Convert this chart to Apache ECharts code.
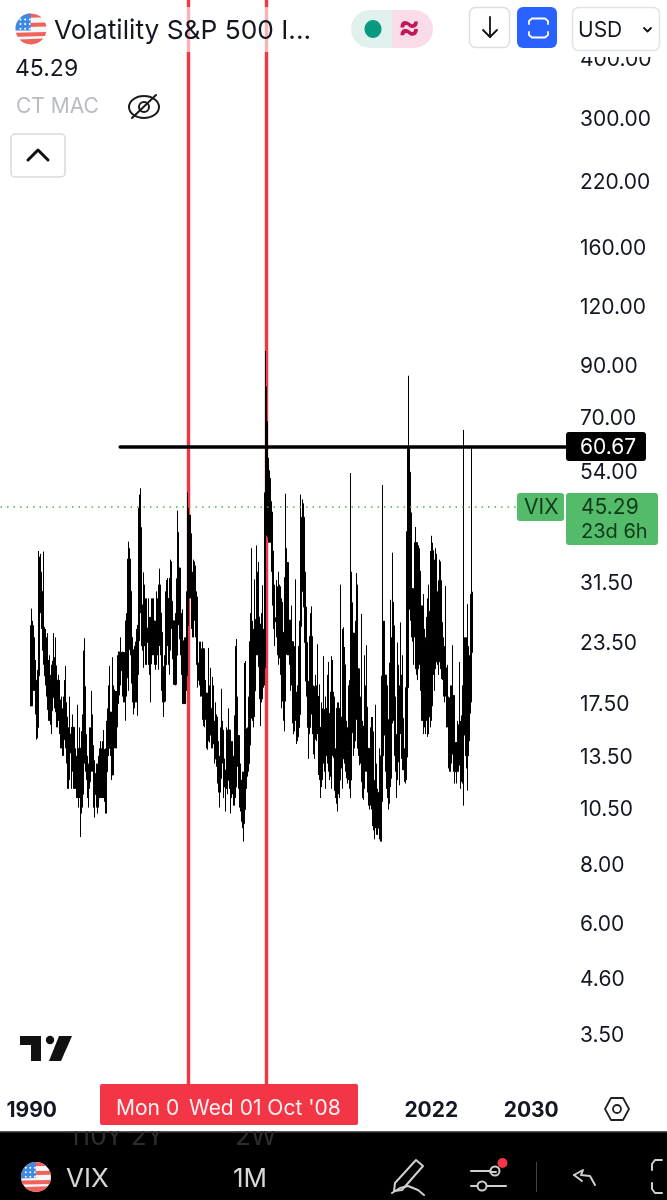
<!DOCTYPE html>
<html><head><meta charset="utf-8">
<script src="https://cdn.jsdelivr.net/npm/echarts@6/dist/echarts.min.js"></script>
<style>html,body{margin:0;padding:0;background:#fff}#c{width:667px;height:1200px}</style></head>
<body><div id="c"></div>
<script>
// Monthly VIX candles, Jan 1990 to Apr 2025, one row per year
const opens=[
17.2,25.4,22.0,19.7,19.5,17.4,15.5,19.9,29.9,29.1,30.0,25.1,
25.2,22.6,19.9,19.9,20.0,16.9,19.3,16.8,17.9,19.4,21.4,20.9,
19.5,16.7,16.7,17.5,17.7,15.0,15.5,14.6,16.5,17.5,16.3,13.9,
12.6,13.7,15.0,13.7,15.5,12.9,12.4,12.7,11.8,12.7,11.4,14.0,
11.7,11.2,15.2,18.9,13.6,13.2,12.6,11.6,11.9,14.8,13.5,14.2,
13.2,11.7,11.2,12.4,11.0,12.2,12.3,13.4,13.2,13.0,13.9,11.8,
12.5,13.5,14.0,16.0,16.7,14.2,12.3,18.6,17.1,15.4,16.0,17.4,
20.9,19.5,20.4,21.4,22.3,20.2,19.3,19.7,26.0,22.6,35.1,30.0,
24.0,22.6,19.2,18.9,20.2,19.7,23.9,23.6,44.3,40.9,28.1,26.0,
24.4,26.3,25.4,23.4,25.1,23.7,21.1,25.0,22.9,26.0,23.9,23.2,
24.6,24.9,24.0,24.1,27.0,24.6,19.7,20.8,17.6,21.0,24.6,29.0,
26.9,23.0,26.0,28.6,26.0,21.6,19.1,22.0,25.9,31.9,33.6,25.5,
23.8,23.6,21.8,17.4,21.9,19.9,25.4,32.0,32.6,39.7,31.1,27.5,
28.6,31.2,29.6,29.2,21.2,19.5,19.5,19.5,19.1,22.7,16.1,16.3,
18.3,16.6,14.6,16.7,17.0,15.5,14.3,15.3,15.3,13.3,16.3,13.2,
13.3,13.1,12.1,14.0,15.3,13.3,12.0,11.6,12.6,12.0,15.3,12.1,
12.1,12.9,12.3,11.4,11.6,16.4,13.1,14.9,12.3,12.0,11.0,10.9,
11.6,10.4,15.4,14.6,14.2,13.0,16.2,23.5,23.4,18.0,18.5,22.9,
22.5,26.2,26.5,25.6,20.8,17.8,24.0,22.9,20.7,39.4,60.0,55.3,
40.0,44.8,46.4,44.1,36.5,28.9,26.4,25.9,26.0,25.6,30.7,24.5,
21.7,24.6,19.5,17.6,22.1,32.1,34.5,23.5,26.1,23.7,21.2,23.5,
17.8,19.5,18.4,17.7,14.8,15.5,16.5,25.3,31.6,43.0,30.0,27.8,
23.4,19.4,18.4,15.5,17.2,24.1,17.1,18.9,17.5,15.7,18.6,15.9,
18.0,14.3,15.5,12.7,13.5,16.3,16.9,13.5,17.0,16.6,13.8,13.7,
13.7,18.4,14.0,13.9,13.4,11.4,11.6,17.0,12.0,16.3,14.0,13.3,
19.2,21.0,13.3,15.3,14.6,13.8,18.2,12.0,28.4,24.5,15.1,16.1,
18.2,20.2,20.6,14.0,15.7,14.2,15.6,11.9,13.4,13.3,17.1,13.3,
14.0,12.0,12.9,12.4,10.8,10.4,11.2,10.3,10.6,9.5,10.2,11.3,
11.0,13.5,19.9,20.0,15.9,15.4,16.1,12.8,12.9,12.1,21.2,18.1,
25.4,16.6,14.8,13.7,13.1,18.7,15.1,16.1,19.0,16.2,13.2,12.6,
13.8,18.8,40.1,53.5,34.2,27.5,30.4,24.5,26.4,26.4,38.0,20.6,
22.8,33.1,28.0,19.4,18.6,16.8,15.8,18.2,16.5,23.1,16.3,27.2,
17.2,24.8,30.2,20.6,33.4,26.2,28.7,21.3,25.9,31.6,25.8,20.6,
21.7,19.4,20.7,18.7,15.8,17.9,13.6,13.6,13.6,17.5,18.1,12.9,
12.5,14.4,13.4,13.0,15.7,12.9,12.4,16.4,15.0,16.7,23.2,13.5,
17.4,16.6,19.6,22.3];
const closes=[
25.4,22.0,19.7,19.5,17.4,15.5,19.9,29.9,29.1,30.0,25.1,25.2,
22.6,19.9,19.9,20.0,16.9,19.3,16.8,17.9,19.4,21.4,20.9,19.5,
16.7,16.7,17.5,17.7,15.0,15.5,14.6,16.5,17.5,16.3,13.9,12.6,
13.7,15.0,13.7,15.5,12.9,12.4,12.7,11.8,12.7,11.4,14.0,11.7,
11.2,15.2,18.9,13.6,13.2,12.6,11.6,11.9,14.8,13.5,14.2,13.2,
11.7,11.2,12.4,11.0,12.2,12.3,13.4,13.2,13.0,13.9,11.8,12.5,
13.5,14.0,16.0,16.7,14.2,12.3,18.6,17.1,15.4,16.0,17.4,20.9,
19.5,20.4,21.4,22.3,20.2,19.3,19.7,26.0,22.6,35.1,30.0,24.0,
22.6,19.2,18.9,20.2,19.7,23.9,23.6,44.3,40.9,28.1,26.0,24.4,
26.3,25.4,23.4,25.1,23.7,21.1,25.0,22.9,26.0,23.9,23.2,24.6,
24.9,24.0,24.1,27.0,24.6,19.7,20.8,17.6,21.0,24.6,29.0,26.9,
23.0,26.0,28.6,26.0,21.6,19.1,22.0,25.9,31.9,33.6,25.5,23.8,
23.6,21.8,17.4,21.9,19.9,25.4,32.0,32.6,39.7,31.1,27.5,28.6,
31.2,29.6,29.2,21.2,19.5,19.5,19.5,19.1,22.7,16.1,16.3,18.3,
16.6,14.6,16.7,17.0,15.5,14.3,15.3,15.3,13.3,16.3,13.2,13.3,
13.1,12.1,14.0,15.3,13.3,12.0,11.6,12.6,12.0,15.3,12.1,12.1,
12.9,12.3,11.4,11.6,16.4,13.1,14.9,12.3,12.0,11.0,10.9,11.6,
10.4,15.4,14.6,14.2,13.0,16.2,23.5,23.4,18.0,18.5,22.9,22.5,
26.2,26.5,25.6,20.8,17.8,24.0,22.9,20.7,39.4,68.0,55.3,40.0,
44.8,46.4,44.1,36.5,28.9,26.4,25.9,26.0,25.6,30.7,24.5,21.7,
24.6,19.5,17.6,22.1,32.1,34.5,23.5,26.1,23.7,21.2,23.5,17.8,
19.5,18.4,17.7,14.8,15.5,16.5,25.3,31.6,43.0,30.0,27.8,23.4,
19.4,18.4,15.5,17.2,24.1,17.1,18.9,17.5,15.7,18.6,15.9,18.0,
14.3,15.5,12.7,13.5,16.3,16.9,13.5,17.0,16.6,13.8,13.7,13.7,
18.4,14.0,13.9,13.4,11.4,11.6,17.0,12.0,16.3,14.0,13.3,19.2,
21.0,13.3,15.3,14.6,13.8,18.2,12.0,28.4,24.5,15.1,16.1,18.2,
20.2,20.6,14.0,15.7,14.2,15.6,11.9,13.4,13.3,17.1,13.3,14.0,
12.0,12.9,12.4,10.8,10.4,11.2,10.3,10.6,9.5,10.2,11.3,11.0,
13.5,19.9,20.0,15.9,15.4,16.1,12.8,12.9,12.1,21.2,18.1,25.4,
16.6,14.8,13.7,13.1,18.7,15.1,16.1,19.0,16.2,13.2,12.6,13.8,
18.8,40.1,60.0,34.2,27.5,30.4,24.5,26.4,26.4,38.0,20.6,22.8,
33.1,28.0,19.4,18.6,16.8,15.8,18.2,16.5,23.1,16.3,27.2,17.2,
24.8,30.2,20.6,33.4,26.2,28.7,21.3,25.9,31.6,25.8,20.6,21.7,
19.4,20.7,18.7,15.8,17.9,13.6,13.6,13.6,17.5,18.1,12.9,12.5,
14.4,13.4,13.0,15.7,12.9,12.4,16.4,15.0,16.7,23.2,13.5,17.4,
16.6,19.6,22.3,29.9];
const highs=[
27.6,26.0,23.5,24.0,21.5,19.0,20.5,36.5,35.5,36.0,33.0,28.0,
36.4,25.0,24.0,24.5,21.5,22.0,20.0,21.0,21.0,24.5,21.8,24.0,
20.0,19.0,20.0,19.5,17.5,18.0,17.0,18.0,19.5,20.9,16.0,15.0,
15.5,18.0,15.5,16.5,15.5,14.0,14.0,13.5,17.3,13.0,15.5,13.5,
12.5,16.5,22.5,23.9,15.5,15.0,13.5,13.0,15.5,15.5,18.5,16.5,
14.0,13.0,13.0,13.0,13.5,14.0,14.5,14.0,14.5,15.3,13.0,14.0,
16.0,17.0,19.0,20.9,16.5,16.0,21.8,19.0,17.5,18.5,18.5,22.0,
22.4,22.4,24.0,22.4,21.0,21.5,21.5,27.0,26.0,38.2,37.0,26.0,
26.4,22.5,20.5,23.0,23.5,25.0,25.5,45.0,48.0,49.5,29.0,28.0,
32.9,31.0,29.0,29.0,29.0,26.5,26.5,29.0,29.0,29.0,25.5,26.0,
30.0,29.0,31.0,33.5,31.0,24.0,22.0,20.0,22.0,30.0,31.7,32.0,
29.0,32.0,35.0,34.7,25.5,23.0,27.0,26.5,44.4,40.0,33.0,27.0,
27.0,27.5,23.0,24.0,24.0,30.0,48.5,45.0,43.5,43.5,31.0,33.0,
35.0,34.7,34.0,30.0,25.0,23.5,23.5,22.0,23.5,22.0,20.5,19.5,
18.0,17.5,22.8,19.0,20.7,16.5,19.8,19.0,16.0,17.5,16.5,14.0,
14.5,13.5,15.5,18.7,16.0,14.0,12.5,15.5,15.0,17.0,14.5,13.0,
14.5,14.5,13.5,13.5,23.0,23.8,18.0,14.0,13.5,13.0,12.0,12.5,
12.5,21.2,21.4,15.0,15.5,18.0,27.0,37.0,26.0,25.0,31.8,25.0,
37.5,33.0,34.6,26.0,23.0,27.0,30.9,25.0,48.5,96.4,81.0,68.5,
57.4,54.0,52.0,40.0,36.0,33.4,31.0,31.7,30.0,33.0,31.0,25.0,
29.0,28.5,19.0,23.5,48.2,37.0,30.0,28.0,26.0,24.0,28.0,19.0,
21.0,23.0,31.8,18.0,19.0,23.0,26.0,48.0,46.9,46.0,37.0,33.0,
24.0,20.0,19.0,21.0,27.0,27.9,21.0,19.0,18.0,20.0,19.0,23.2,
15.5,19.1,15.5,17.5,17.0,21.9,15.5,18.0,20.0,21.3,14.5,17.0,
21.9,21.5,18.0,18.0,14.0,13.0,17.5,17.5,17.0,31.0,15.0,25.0,
25.2,22.9,17.5,16.0,15.5,19.0,19.5,53.3,33.0,24.0,18.0,26.0,
32.8,31.0,20.5,17.5,18.0,26.9,16.0,14.0,22.0,19.0,23.1,15.0,
14.0,13.5,15.5,16.3,16.3,15.2,12.0,17.3,13.0,11.5,14.0,13.3,
15.0,50.3,26.0,26.0,19.0,20.0,19.0,15.5,15.0,28.8,24.0,36.2,
28.5,17.5,18.0,15.0,23.4,21.0,19.0,25.8,20.0,22.0,14.0,16.0,
25.0,49.5,85.5,48.2,38.0,44.0,30.0,28.0,36.0,41.0,38.0,28.0,
37.5,37.0,31.0,22.0,28.0,29.6,25.0,24.0,26.5,29.0,31.0,36.5,
39.3,38.0,36.6,35.0,37.0,36.0,30.0,28.0,35.0,34.7,27.0,25.0,
24.0,23.0,30.8,19.5,21.0,18.0,16.0,19.0,19.0,23.1,18.0,13.5,
14.0,16.0,14.0,21.3,16.0,14.0,19.0,65.7,24.0,24.0,24.0,28.2,
23.0,22.0,29.6,60.1];
const lows=[
18.7,19.5,18.5,18.5,16.5,14.6,14.7,17.5,26.0,27.0,25.0,22.5,
21.0,19.0,18.0,18.0,16.0,16.0,15.7,15.0,17.0,18.0,17.0,17.5,
15.5,15.5,16.0,15.0,14.0,14.0,13.5,13.5,15.0,14.0,13.0,11.5,
11.5,12.0,11.5,12.5,11.5,11.5,11.5,11.0,11.0,10.5,11.0,9.1,
10.2,10.5,14.0,13.0,12.5,12.0,11.0,10.5,11.5,12.5,12.5,12.5,
10.5,10.0,10.5,10.2,10.5,11.0,11.0,11.0,11.0,11.0,10.8,10.2,
10.2,12.5,14.5,15.0,13.5,12.0,12.3,14.0,14.0,14.0,14.0,15.5,
18.0,18.1,19.0,18.0,17.5,17.5,16.0,18.0,21.0,18.5,26.0,22.0,
20.0,17.5,16.5,17.0,17.5,17.5,16.4,20.0,30.0,27.0,23.0,22.5,
20.7,23.0,21.0,21.0,21.0,20.0,17.5,22.0,22.0,22.0,21.0,20.5,
21.0,22.0,20.5,23.0,22.0,18.5,17.5,16.3,17.5,20.0,24.5,23.0,
21.0,20.0,22.5,25.0,21.0,19.7,19.0,20.0,24.0,29.0,25.0,22.0,
20.0,21.0,17.5,17.5,18.5,18.5,27.0,27.0,29.0,29.0,25.0,24.0,
24.0,26.0,24.0,21.0,18.8,19.0,18.0,18.0,18.0,15.6,15.5,16.5,
14.0,13.9,14.5,14.4,14.9,14.0,14.0,14.5,13.0,13.5,12.8,11.8,
11.3,10.5,11.3,12.8,13.0,11.0,10.3,11.5,11.2,12.0,11.5,10.2,
11.0,11.2,10.6,10.6,11.0,12.5,12.8,11.5,10.5,10.3,9.8,9.5,
8.9,9.7,13.5,11.5,12.2,12.5,14.2,18.0,16.0,15.5,16.3,19.0,
22.0,22.0,22.5,19.5,15.6,17.5,21.0,18.8,19.0,31.7,45.0,39.0,
38.0,38.0,38.0,33.0,28.0,25.0,23.0,24.0,22.0,21.0,22.0,20.0,
17.0,18.0,16.0,15.2,22.0,23.0,22.0,22.0,21.0,18.5,19.0,15.8,
15.0,15.2,16.0,14.3,14.5,15.0,15.5,18.0,31.0,28.0,25.0,23.0,
18.0,17.0,13.3,15.0,16.0,16.5,15.0,13.6,13.3,14.6,14.5,15.0,
12.3,12.0,11.0,11.6,12.0,13.0,12.5,11.5,13.0,12.5,12.0,12.2,
11.5,13.5,13.5,12.9,11.0,10.7,10.3,11.2,11.0,13.5,12.7,11.5,
15.5,13.0,12.5,12.1,11.8,12.0,11.5,11.0,20.0,13.5,14.0,14.5,
17.0,19.0,13.5,12.9,13.0,13.0,11.0,10.9,11.5,12.5,12.5,11.3,
10.6,10.4,10.6,10.4,9.6,9.4,9.0,9.5,9.2,9.2,9.0,8.9,
8.9,10.8,15.5,14.9,12.5,11.5,11.0,10.4,10.7,11.6,15.5,15.8,
16.0,13.5,12.5,11.0,12.0,13.5,11.7,15.0,13.3,12.6,11.9,11.8,
12.0,13.4,25.0,30.0,26.0,24.0,23.5,21.0,24.0,24.5,20.0,19.5,
21.0,21.0,18.5,16.0,16.0,15.0,15.5,15.0,16.0,14.8,15.0,15.5,
16.0,19.5,20.0,18.5,24.0,24.0,21.0,20.0,23.0,25.0,19.6,19.5,
18.0,17.5,18.0,15.5,15.5,12.7,12.5,12.5,13.0,16.0,12.5,11.8,
11.8,12.8,12.5,13.0,11.5,11.9,11.8,10.6,14.9,15.0,12.7,11.4,
14.5,14.5,17.5,17.5];
const priceTicks=[400,300,220,160,120,90,70,54,31.5,23.5,17.5,13.5,10.5,8,6,4.6,3.5];
const xTickYears=['1990','2022','2030'];
const levelValue=60.67;
const lastPrice=45.29;
const cursorMonths=['2002-07','2008-10'];
const firstYear=1987, firstMonth=7, monthCount=641;

const categories=[];
for(let i=0;i<monthCount;i++){
  const m=firstMonth-1+i, y=firstYear+Math.floor(m/12), mm=m%12+1;
  categories.push(y+'-'+String(mm).padStart(2,'0'));
}
const firstIdx=categories.indexOf('1990-01');
const candleData=categories.map((c,i)=>{
  const k=i-firstIdx;
  return (k>=0&&k<closes.length)?[opens[k],closes[k],lows[k],highs[k]]:'-';
});
const FONT='Inter, "Liberation Sans", sans-serif';
const INK='#131722';

function band(cx,cy,r,y0,y1,x1){ // polygon of a disc slice, for the flag icon
  const pts=[];
  const hw=y=>Math.sqrt(Math.max(0,r*r-(y-cy)*(y-cy)));
  for(let y=y0;y<=y1+.01;y+=1){pts.push([Math.min(cx+hw(y),x1===undefined?1e9:x1),y]);}
  for(let y=y1;y>=y0-.01;y-=1){pts.push([cx-hw(y),y]);}
  return pts;
}
function flag(cx,cy,r){
  const out=[{type:'circle',z:101,shape:{cx,cy,r},style:{fill:'#f4f6f8'}}];
  const reds=[[-1,-.72],[-.42,-.12],[.2,.5],[.62,1]];
  reds.forEach(b=>out.push({type:'polygon',z:102,shape:{points:band(cx,cy,r,cy+b[0]*r,cy+b[1]*r)},style:{fill:'#f0625a'}}));
  out.push({type:'polygon',z:103,shape:{points:band(cx,cy,r,cy-r,cy+.1*r,cx-.02*r)},style:{fill:'#3d8ae0'}});
  for(let i=0;i<3;i++)for(let j=0;j<3;j++)out.push({type:'circle',z:104,shape:{cx:cx-.68*r+j*.3*r,cy:cy-.62*r+i*.3*r,r:1},style:{fill:'#fff'}});
  return out;
}
const T=(text,x,y,size,fill,extra)=>({type:'text',z:110,x,y,style:Object.assign({text,fill,font:size+'px '+FONT,textVerticalAlign:'middle',textAlign:'left'},extra||{})});
const stroke=(c,w)=>({fill:'none',stroke:c,lineWidth:w,lineCap:'round',lineJoin:'round'});
const PL=(points,c,w)=>({type:'polyline',z:110,shape:{points},style:stroke(c,w)});
const RR=(x,y,width,height,r,fill,st)=>({type:'rect',z:105,shape:{x,y,width,height,r},style:Object.assign({fill},st||{})});

const graphics=[
  // header veil and the clipped top of the price scale
  {type:'rect',z:90,shape:{x:0,y:7,width:667,height:45},style:{fill:'rgba(255,255,255,0.62)'}},
  {type:'rect',z:91,shape:{x:566,y:0,width:101,height:57},style:{fill:'#fff'}},
  ...flag(31,29,15.5),
  T('Volatility S&P 500 I...',54,31,26.3,INK),
  T('45.29',15,69,23,INK),
  T('CT MAC',16,107,21,'#b8bbc2'),
  {type:'ellipse',z:110,shape:{cx:144,cy:107,rx:15,ry:11},style:stroke('#1a1a1a',2)},
  {type:'circle',z:110,shape:{cx:144,cy:107,r:5},style:stroke('#1a1a1a',2)},
  PL([[132,118],[156,95]],'#1a1a1a',2),
  RR(11,134,54,43,4,'#fff',{stroke:'#d9dadd',lineWidth:1.5}),
  PL([[28,160],[38,150],[48,160]],'#111',3),
  // status pill
  {type:'rect',z:105,shape:{x:351,y:10,width:42,height:38,r:[19,0,0,19]},style:{fill:'#e0f1ed'}},
  {type:'rect',z:105,shape:{x:392,y:10,width:41,height:38,r:[0,19,19,0]},style:{fill:'#f9dce8'}},
  {type:'ellipse',z:110,shape:{cx:373,cy:29,rx:8.5,ry:9},style:{fill:'#089981'}},
  T('≈',398,28,33,'#c2185b',{font:'bold 33px '+FONT}),
  // buttons
  RR(469.5,7.5,40,40,6,'#fff',{stroke:'#dddee1',lineWidth:1.5}),
  PL([[490,17],[490,37]],'#111',1.8),PL([[483,30],[490,37],[497,30]],'#111',1.8),
  RR(517,7,40,41,6,'#2962ff'),
  PL([[529,24],[529,21],[532,18.5],[545,18.5],[548,21],[548,24]],'#fff',1.8),
  PL([[529,32],[529,35],[532,37.5],[545,37.5],[548,35],[548,32]],'#fff',1.8),
  RR(572.5,7.5,87,43,6,'#fff',{stroke:'#e2e3e6',lineWidth:1.5}),
  T('USD',578,31,21,INK),
  PL([[644,28],[647.5,31.5],[651,28]],'#111',1.8),
  // level and last price tags
  RR(566,432,80,29,3,'#000'),
  T('60.67',580,448,21,'#fff'),
  RR(517,493,47,28,3,'#54bb6a'),
  T('VIX',524,508,21,'#0d3b1a'),
  RR(566,493,92,52,3,'#54bb6a'),
  T(lastPrice.toFixed(2),581,508,21,'#0d3b1a'),
  T('23d 6h',581,532,20,'#0d3b1a'),
  // watermark logo
  {type:'polygon',z:110,shape:{points:[[20,1036],[41,1036],[41,1061],[31,1061],[31,1045],[20,1045]]},style:{fill:'#111'}},
  {type:'circle',z:110,shape:{cx:50,cy:1040,r:4.2},style:{fill:'#111'}},
  {type:'polygon',z:110,shape:{points:[[59,1036],[72,1036],[61,1061],[49,1061]]},style:{fill:'#111'}},
  // date cursor labels
  RR(100,1084,258,41,2,'#f23645'),
  T('Mon 0',116,1109,21,'#fff0f1'),
  T("Wed 01 Oct '08",189,1109,21,'#fff0f1'),
  // settings hexagon
  {type:'polygon',z:110,shape:{points:[[611,1098],[623,1098],[629,1109],[623,1120],[611,1120],[605,1109]]},style:stroke('#222',1.8)},
  {type:'circle',z:110,shape:{cx:617,cy:1109,r:4},style:stroke('#222',1.8)},
  // bottom toolbar
  {type:'rect',z:95,shape:{x:0,y:1132,width:667,height:68},style:{fill:'#000'}},
  {type:'rect',z:96,shape:{x:0,y:1131,width:667,height:1.5},style:{fill:'#555'}},
  T('110Y 2Y',69,1137,26,'#2e2e2e'),
  T('2W',235,1137,26,'#2e2e2e'),
  {type:'rect',z:120,shape:{x:60,y:1126,width:240,height:5},style:{fill:'#fff'}},
  ...flag(36,1177,15),
  T('VIX',66,1179,26,'#d8d8d8'),
  T('1M',233,1179,26,'#d8d8d8'),
  PL([[395,1183],[416,1160],[423,1166],[402,1190],[394,1191],[395,1183]],'#cfcfcf',2),
  PL([[392,1193],[400,1188],[408,1186],[418,1190],[424,1195]],'#cfcfcf',2),
  PL([[471,1171],[490,1171]],'#cfcfcf',2),PL([[496,1172],[490,1172]],'#cfcfcf',2),
  {type:'circle',z:110,shape:{cx:495,cy:1171,r:4.5},style:stroke('#cfcfcf',2)},
  {type:'circle',z:110,shape:{cx:482,cy:1186,r:4.5},style:stroke('#cfcfcf',2)},
  PL([[471,1186],[477,1186]],'#cfcfcf',2),PL([[487,1186],[506,1186]],'#cfcfcf',2),
  {type:'circle',z:112,shape:{cx:502.5,cy:1163,r:5},style:{fill:'#f23645'}},
  {type:'rect',z:110,shape:{x:536,y:1162,width:1,height:30},style:{fill:'#444'}},
  PL([[574,1175],[583,1170],[581,1175],[590,1176],[595,1185]],'#cfcfcf',2),
  PL([[574,1175],[582,1181]],'#cfcfcf',2),
  PL([[662,1160],[655,1160],[652,1164],[652,1170]],'#cfcfcf',2),
  PL([[652,1183],[652,1189],[655,1193],[662,1193]],'#cfcfcf',2),
];

const chart=echarts.init(document.getElementById('c'),null,{renderer:'canvas'});
chart.setOption({
  animation:false,
  grid:{left:0,right:0,top:0,bottom:115},
  xAxis:{type:'category',data:categories,boundaryGap:true,
    axisLine:{show:false},axisTick:{show:false},splitLine:{show:false},
    axisLabel:{
      interval:(i,v)=>xTickYears.includes(v.slice(0,4))&&v.endsWith('-01'),
      formatter:v=>v.slice(0,4),
      hideOverlap:false,
      fontFamily:FONT,fontSize:21,fontWeight:'bold',color:'#131722',margin:15}},
  yAxis:{type:'log',logBase:10,min:2.73,max:530,position:'right',
    axisLine:{show:false},axisTick:{show:false},splitLine:{show:false},
    axisLabel:{inside:true,margin:87,align:'left',verticalAlign:'top',lineHeight:4,customValues:priceTicks,
      formatter:v=>Number(v).toFixed(2),
      fontFamily:FONT,fontSize:21,color:'#131722',showMinLabel:true,showMaxLabel:true}},
  graphic:{elements:graphics},
  series:[
    {name:'cursor',type:'line',data:[],z:1,silent:true,symbol:'none',
      markLine:{silent:true,symbol:'none',label:{show:false},animation:false,z:1,
        lineStyle:{color:'#f23645',width:3.4,type:'solid'},
        data:cursorMonths.map(m=>({xAxis:m}))}},
    {name:'VIX',type:'candlestick',data:candleData,z:5,barWidth:2,large:false,progressive:0,silent:true,
      itemStyle:{color:'#000',color0:'#000',borderColor:'#000',borderColor0:'#000',borderWidth:1}},
    {name:'levels',type:'line',data:[],z:6,silent:true,symbol:'none',
      markLine:{silent:true,symbol:'none',label:{show:false},animation:false,z:6,
        data:[
          [{coord:['1997-02',levelValue],lineStyle:{color:'#000',width:3.5,type:'solid',cap:'round'}},{coord:['2032-10',levelValue]}],
          [{coord:[categories[0],lastPrice],lineStyle:{color:'#4caf50',width:1.5,type:[1.5,5]}},{coord:['2028-11',lastPrice]}]
        ]}}
  ]
});
</script></body></html>
